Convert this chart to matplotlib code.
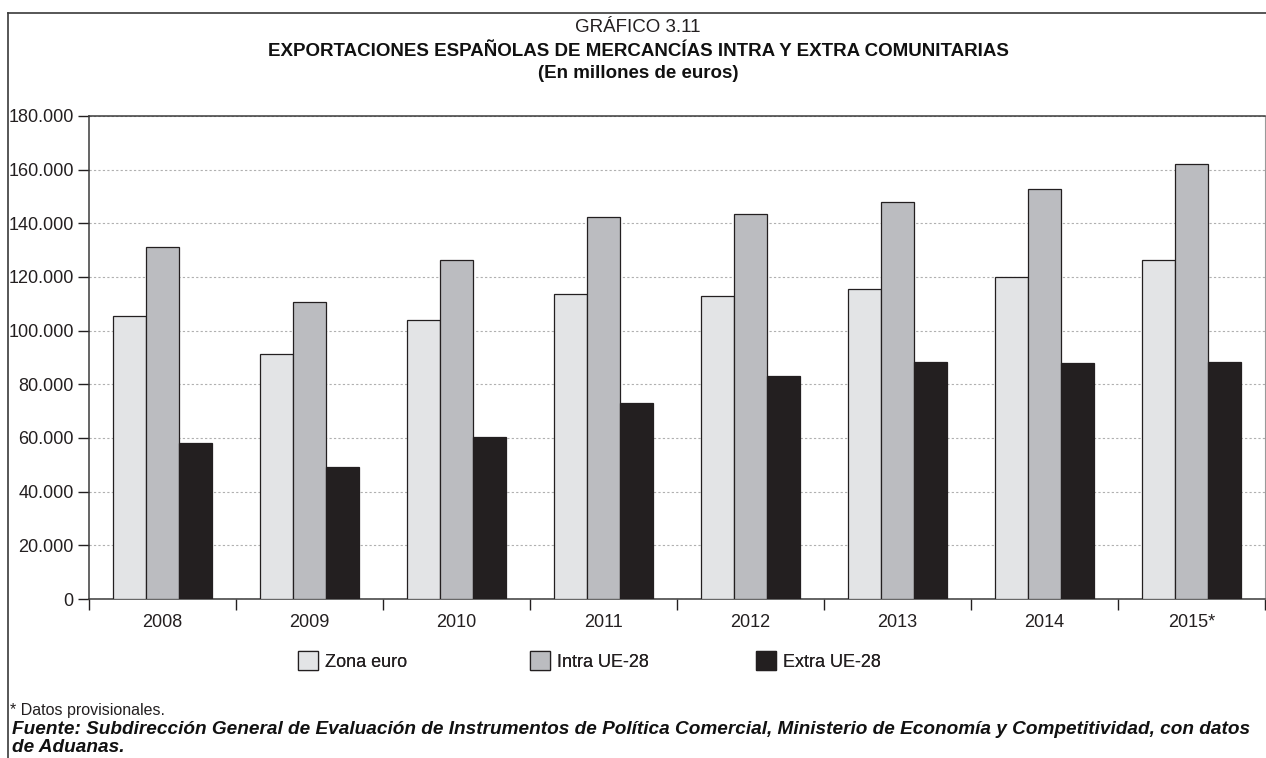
import matplotlib.pyplot as plt
import numpy as np
from matplotlib.lines import Line2D
from matplotlib.ticker import FuncFormatter

plt.rcParams["font.family"] = ["Liberation Sans", "DejaVu Sans"]

years = ["2008", "2009", "2010", "2011", "2012", "2013", "2014", "2015*"]
zona_euro = [105300, 91300, 104000, 113600, 112900, 115700, 120100, 126300]
intra_ue = [131000, 110600, 126500, 142500, 143400, 147900, 152900, 162200]
extra_ue = [58300, 49300, 60400, 73000, 83100, 88300, 87900, 88400]

series = [
    ("Zona euro", zona_euro, "#e3e4e6"),
    ("Intra UE-28", intra_ue, "#bbbcc0"),
    ("Extra UE-28", extra_ue, "#231f20"),
]

W, H = 1266, 758
fig = plt.figure(figsize=(W / 100, H / 100), dpi=100)
ax = fig.add_axes([89 / W, 1 - 599 / H, 1176 / W, 483 / H])

x = np.arange(len(years))
width = 0.225
for i, (label, values, color) in enumerate(series):
    ax.bar(x + (i - 1) * width, values, width, color=color, edgecolor="#231f20",
           linewidth=0.9, label=label, zorder=3)

ax.set_xlim(-0.5, len(years) - 0.5)
ax.set_ylim(0, 180000)
ax.set_yticks(np.arange(0, 180001, 20000))
ax.yaxis.set_major_formatter(FuncFormatter(lambda v, _: f"{int(v):,}".replace(",", ".")))
ax.yaxis.grid(True, linestyle=(0, (2, 2)), color="#b0b0b0", linewidth=0.8, zorder=0)

# tick marks on the category boundaries, labels in the middle
ax.set_xticks(np.arange(-0.5, len(years), 1.0))
ax.set_xticklabels([])
ax.set_xticks(x, minor=True)
ax.set_xticklabels(years, minor=True)
ax.tick_params(axis="x", which="major", length=8, width=1, color="#231f20")
ax.tick_params(axis="x", which="minor", length=0, pad=11, labelsize=13, labelcolor="#231f20")
ax.tick_params(axis="y", length=8, width=1, color="#231f20", labelsize=13, pad=3,
               labelcolor="#231f20")

for side in ["left", "bottom", "top"]:
    ax.spines[side].set_color("#3a3a3a")
    ax.spines[side].set_linewidth(1.1)
ax.spines["right"].set_color("#9a9a9a")
ax.spines["right"].set_linewidth(0.8)

# legend entries placed one by one to keep the wide spacing of the original
handles, labels = ax.get_legend_handles_labels()
legend_x = [298, 530, 756]
for handle, label, lx in zip(handles, labels, legend_x):
    leg = fig.legend([handle], [label], loc="center left", bbox_to_anchor=(lx / W, 1 - 661 / H),
                     frameon=False, borderpad=0, borderaxespad=0, fontsize=13,
                     handlelength=1.1, handleheight=1.2, handletextpad=0.4)
    leg.get_texts()[0].set_color("#231f20")
    fig.add_artist(leg)

# outer frame
fig.add_artist(Line2D([8 / W, 8 / W], [0, 1 - 13 / H], color="#3a3a3a", linewidth=1.2,
                      transform=fig.transFigure))
fig.add_artist(Line2D([8 / W, 1], [1 - 13 / H, 1 - 13 / H], color="#3a3a3a", linewidth=1.2,
                      transform=fig.transFigure))

cx = 638 / W
fig.text(cx, 1 - 28 / H, "GRÁFICO 3.11", ha="center", va="center", fontsize=13.5,
         color="#231f20")
fig.text(cx, 1 - 51 / H, "EXPORTACIONES ESPAÑOLAS DE MERCANCÍAS INTRA Y EXTRA COMUNITARIAS",
         ha="center", va="center", fontsize=13.5, fontweight="bold", color="#111111")
fig.text(cx, 1 - 74 / H, "(En millones de euros)", ha="center", va="center", fontsize=13.5,
         fontweight="bold", color="#111111")

fig.text(10 / W, 1 - 711 / H, "* Datos provisionales.", ha="left", va="center", fontsize=11.5,
         color="#231f20")
fig.text(12 / W, 1 - 729 / H,
         "Fuente: Subdirección General de Evaluación de Instrumentos de Política Comercial, "
         "Ministerio de Economía y Competitividad, con datos",
         ha="left", va="center", fontsize=13.7, fontweight="bold", fontstyle="italic",
         color="#111111")
fig.text(12 / W, 1 - 747 / H, "de Aduanas.", ha="left", va="center", fontsize=13.7,
         fontweight="bold", fontstyle="italic", color="#111111")

fig.savefig("out.png", dpi=100)
